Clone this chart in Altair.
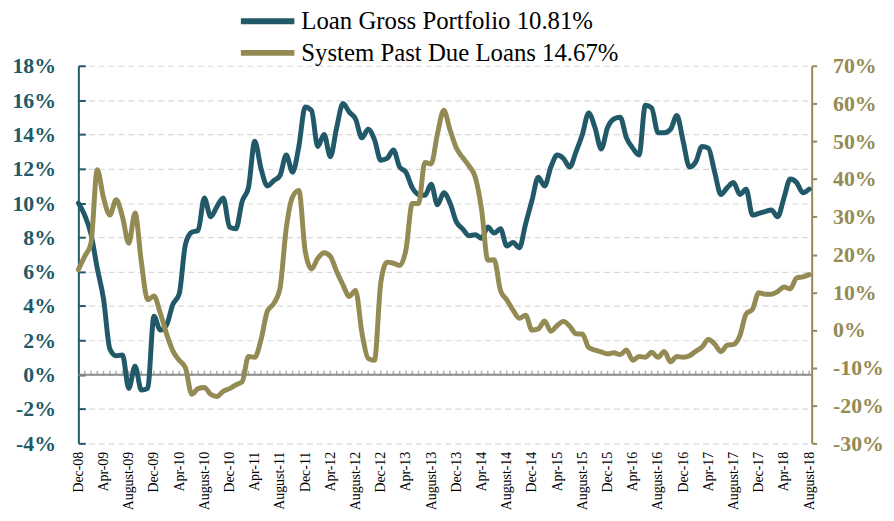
import json
import altair as alt
import pandas as pd

# ---- data (monthly, Dec-08 .. Aug-18) ----
tick_labels = [
    "Dec-08",
    "Apr-09", "August-09", "Dec-09",
    "Apr-10", "August-10", "Dec-10",
    "Apr-11", "August-11", "Dec-11",
    "Apr-12", "August-12", "Dec-12",
    "Apr-13", "August-13", "Dec-13",
    "Apr-14", "August-14", "Dec-14",
    "Apr-15", "August-15", "Dec-15",
    "Apr-16", "August-16", "Dec-16",
    "Apr-17", "August-17", "Dec-17",
    "Apr-18", "August-18",
]

loan_gross_portfolio = [
    10.0, 9.3, 8.2, 6.2, 4.4, 1.5, 1.1, 1.15, -0.8, 0.5,
    -0.9, -0.8, 3.4, 2.6, 2.9, 4.1, 4.7, 7.6, 8.3, 8.4,
    10.3, 9.2, 9.8, 10.3, 8.6, 8.5, 10.1, 10.9, 13.6, 12.0,
    11.0, 11.3, 11.6, 12.8, 11.8, 13.3, 15.6, 15.4, 13.3, 14.0,
    12.7, 14.4, 15.8, 15.3, 14.9, 13.8, 14.3, 13.7, 12.5, 12.6,
    13.1, 12.1, 11.8, 10.9, 10.5, 10.45, 11.1, 9.9, 10.6, 10.0,
    8.9, 8.5, 8.1, 8.15, 7.95, 8.6, 8.25, 8.5, 7.5, 7.7,
    7.4, 8.8, 10.15, 11.5, 11.0, 12.1, 12.8, 12.6, 12.1, 13.0,
    14.0, 15.25, 14.4, 13.15, 14.4, 14.9, 15.0, 13.8, 13.2, 12.8,
    15.7, 15.55, 14.1, 14.1, 14.3, 15.1, 13.6, 12.1, 12.4, 13.3,
    13.2, 11.8, 10.5, 10.9, 11.2, 10.5, 10.8, 9.3, 9.4, 9.5,
    9.6, 9.2, 10.3, 11.4, 11.2, 10.6, 10.81,
]

system_past_due_loans = [
    16.0, 19.5, 23.0, 42.5, 35.0, 30.5, 34.5, 30.0, 23.0, 31.0,
    18.0, 8.0, 9.0, 4.5, -1.0, -5.5, -8.0, -10.0, -17.0, -15.5,
    -15.2, -17.0, -17.6, -16.2, -15.5, -14.5, -13.7, -7.0, -7.2, -2.5,
    5.0, 7.0, 11.0, 27.0, 35.3, 37.0, 21.0, 16.2, 19.0, 20.5,
    19.5, 15.5, 12.0, 8.9, 10.5, -0.6, -7.5, -8.0, 12.5, 18.0,
    17.7, 17.1, 21.3, 33.5, 33.5, 44.4, 44.0, 52.0, 58.2, 53.0,
    48.2, 45.7, 43.5, 40.5, 32.0, 18.5, 18.6, 10.5, 8.0, 5.3,
    3.1, 3.9, 0.0, 0.3, 2.4, -0.3, 1.2, 2.3, 1.0, -1.0,
    -1.05, -4.6, -5.3, -5.8, -6.3, -6.0, -6.5, -5.3, -8.0, -7.0,
    -7.2, -5.9, -7.2, -5.7, -8.4, -7.0, -7.2, -6.8, -5.6, -4.5,
    -2.5, -3.7, -5.7, -4.0, -3.8, -1.5, 4.3, 5.5, 9.9, 9.5,
    9.5, 10.2, 11.4, 10.9, 13.8, 14.1, 14.67,
]

series_names = ["Loan Gross Portfolio 10.81%", "System Past Due Loans 14.67%"]
series_colors = ["#215968", "#948A54"]
left_ticks = [-4, -2, 0, 2, 4, 6, 8, 10, 12, 14, 16, 18]
right_ticks = [-30, -20, -10, 0, 10, 20, 30, 40, 50, 60, 70]

n = len(loan_gross_portfolio)
months = list(range(n))
df = pd.DataFrame({
    "month": months + months,
    "value": loan_gross_portfolio + system_past_due_loans,
    "series": [series_names[0]] * n + [series_names[1]] * n,
})
ticks_df = pd.DataFrame({"month": months[1:]})
zero_df = pd.DataFrame({"zero": [0]})

FONT = "Liberation Serif"
LABEL_JS = json.dumps(tick_labels)

x_enc = alt.X(
    "month:Q",
    scale=alt.Scale(domain=[0, 116.4], nice=False, zero=False),
    axis=alt.Axis(
        values=list(range(0, n, 4)),
        labelExpr=f"{LABEL_JS}[round(datum.value / 4)]",
        labelAngle=270,
        labelFont=FONT,
        labelFontSize=14,
        labelColor="black",
        labelPadding=8,
        labelOverlap=False,
        ticks=False,
        domain=False,
        grid=False,
        title=None,
    ),
    title=None,
)

color_enc = alt.Color(
    "series:N",
    scale=alt.Scale(domain=series_names, range=series_colors),
    legend=alt.Legend(
        orient="none",
        legendX=178,
        legendY=-58,
        direction="vertical",
        title=None,
        symbolType="M-2.7,0H2.7",
        symbolSize=400,
        symbolStrokeWidth=6,
        symbolFillColor="transparent",
        labelFont=FONT,
        labelFontSize=25,
        labelColor="black",
        labelOffset=21,
        labelLimit=600,
        rowPadding=6,
        padding=0,
    ),
)

left_axis = alt.Axis(
    orient="left",
    values=left_ticks,
    labelExpr="datum.value + '%'",
    labelFont=FONT,
    labelFontSize=22,
    labelFontWeight="bold",
    labelColor=series_colors[0],
    labelPadding=30,
    domainColor=series_colors[0],
    domainWidth=2,
    tickColor=series_colors[0],
    tickWidth=2,
    tickSize={"expr": "-7"},
    grid=True,
    gridColor="#D9D9D9",
    gridDash=[6, 4],
    gridWidth=1.2,
    title=None,
)

right_axis = alt.Axis(
    orient="right",
    values=right_ticks,
    labelExpr="datum.value + '%'",
    labelFont=FONT,
    labelFontSize=22,
    labelFontWeight="bold",
    labelColor=series_colors[1],
    labelPadding=16,
    domainColor=series_colors[1],
    domainWidth=2,
    tickColor=series_colors[1],
    tickWidth=2,
    tickSize=5,
    grid=False,
    title=None,
)

left_scale = alt.Scale(domain=[-4, 18], nice=False, zero=False)
right_scale = alt.Scale(domain=[-30, 70], nice=False, zero=False)

zero_rule = alt.Chart(zero_df).mark_rule(color="#8C8C8C", strokeWidth=2).encode(
    y=alt.Y("zero:Q", scale=left_scale, axis=left_axis, title=None)
)

month_ticks = alt.Chart(ticks_df).mark_tick(
    orient="vertical", size=4, thickness=1.5, color="#8C8C8C", yOffset=-2
).encode(
    x=x_enc,
    y=alt.Y("zero_v:Q", scale=left_scale, axis=left_axis, title=None),
).transform_calculate(zero_v="0")

line_style = dict(strokeWidth=5, interpolate="monotone", strokeCap="round", strokeJoin="round")

loan_line = alt.Chart(df).transform_filter(
    alt.datum.series == series_names[0]
).mark_line(**line_style).encode(
    x=x_enc,
    y=alt.Y("value:Q", scale=left_scale, axis=left_axis, title=None),
    color=color_enc,
)

past_line = alt.Chart(df).transform_filter(
    alt.datum.series == series_names[1]
).mark_line(**line_style).encode(
    x=x_enc,
    y=alt.Y("value:Q", scale=right_scale, axis=right_axis, title=None),
    color=color_enc,
)

chart = alt.layer(
    alt.layer(zero_rule, month_ticks, loan_line),
    past_line,
).resolve_scale(y="independent").properties(
    width=740,
    height=381,
    autosize=alt.AutoSizeParams(type="none"),
    padding={"left": 71, "top": 56, "right": 75, "bottom": 68},
).configure_view(stroke=None)

chart.save("out.html", embed_options={"renderer": "svg", "actions": False})
